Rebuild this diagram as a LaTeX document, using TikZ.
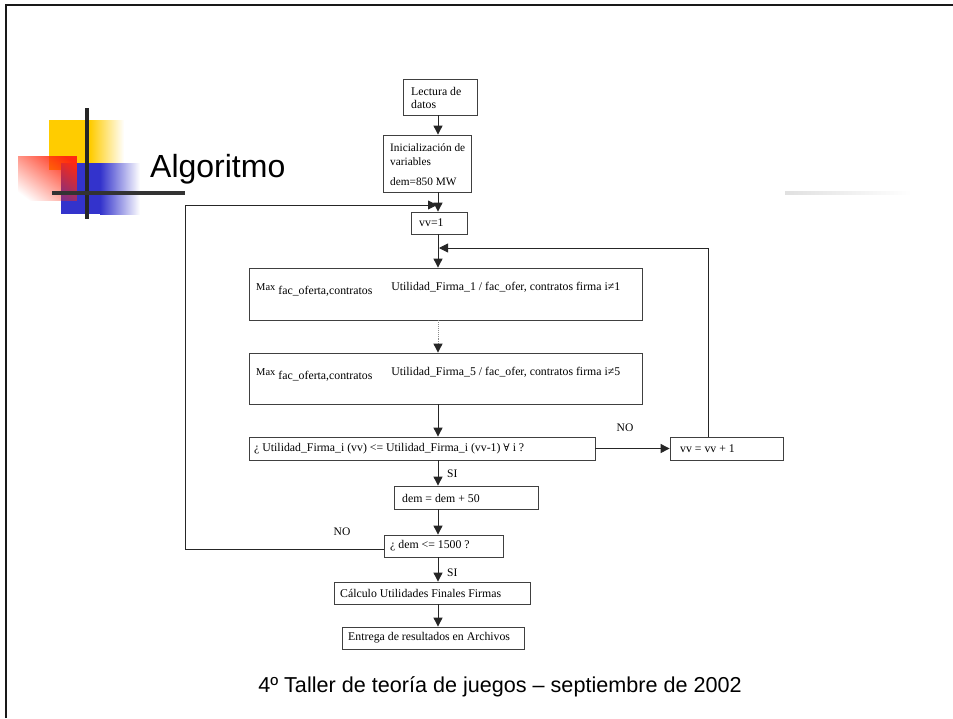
\documentclass[tikz,border=0pt]{standalone}
\usepackage{fontspec}
\setmainfont{Liberation Serif}
\newfontfamily\sansf{Liberation Sans}
\newfontfamily\dvserif{DejaVu Serif}
\usetikzlibrary{arrows.meta,fadings,shadings}
\definecolor{ylw}{HTML}{FFCC00}
\definecolor{blu}{HTML}{3333CC}
\definecolor{rd}{HTML}{FF2A10}
\begin{tikzfadingfrompicture}[name=redfade]
\shade[top color=transparent!0, bottom color=transparent!100, shading angle=-45] (0,0) rectangle (2,2);
\end{tikzfadingfrompicture}
\begin{document}
\begin{tikzpicture}[x=1pt,y=-1pt,
  box/.style={draw=black!75, line width=0.8pt, inner sep=0pt},
  txt/.style={font=\fontsize{11.8}{13.5}\selectfont, inner sep=0pt, anchor=west, align=left},
  lbl/.style={font=\fontsize{11.5}{13}\selectfont, inner sep=0pt},
  arr/.style={draw=black!85, line width=0.9pt, -{Triangle[length=9pt,width=9pt]}},
  ln/.style={draw=black!85, line width=0.9pt}]
\useasboundingbox (0,0) rectangle (953,718);
\fill[white] (0,0) rectangle (953,718);
% logo
\fill[ylw] (49,120) rectangle (90,170);
\shade[left color=ylw, right color=white] (90,120) rectangle (124,170);
\fill[blu] (61,163) rectangle (100,214);
\shade[left color=blu, right color=white] (100,163) rectangle (140,214);
\fill[rd, path fading=redfade] (18,156) rectangle (77,201);
\draw[line width=4pt, black!85] (87,108) -- (87,219);
\draw[line width=3.5pt, black!80] (52,193) -- (185,193);
\node[font=\sansf\fontsize{32}{36}\selectfont, anchor=base west, inner sep=0pt] (title) at (150,177) {Algoritmo};
\shade[left color=black!12, right color=white] (785,191.5) rectangle (912,194.5);
% frame
\draw[line width=2.6pt, black!90] (6,718) -- (6,5) -- (953,5);
% boxes
\node[box, minimum width=74pt, minimum height=36pt] (lectura) at (440,97) {};
\node[box, minimum width=88pt, minimum height=57pt] (inic) at (427,163.5) {};
\node[box, minimum width=56pt, minimum height=22pt] (vv1) at (439,223) {};
\node[box, minimum width=393pt, minimum height=52pt] (max1) at (445.5,294) {};
\node[box, minimum width=393pt, minimum height=51pt] (max2) at (445.5,378.5) {};
\node[box, minimum width=346pt, minimum height=23pt] (dec) at (422,448.5) {};
\node[box, minimum width=113pt, minimum height=23pt] (vvp) at (726.5,448.5) {};
\node[box, minimum width=144pt, minimum height=23pt] (dem) at (466,497.5) {};
\node[box, minimum width=119pt, minimum height=22pt] (dem2) at (443.5,546) {};
\node[box, minimum width=196pt, minimum height=22pt] (calc) at (432,593) {};
\node[box, minimum width=182pt, minimum height=22pt] (entrega) at (433,638) {};
% texts
\node[txt] (lectura-t) at (411,98) {Lectura de\\datos};
\node[txt, font=\fontsize{11.3}{13.5}\selectfont] (inic-t) at (390,165) {Inicialización de\\variables\\[7pt]dem=850 MW};
\node[txt] (vv1-t) at (419,223) {vv=1};
\node[txt] (max1-t) at (256,289) {{\fontsize{10.5}{12}\selectfont Max} \raisebox{-4pt}{fac\_oferta,contratos}\hspace{16pt} Utilidad\_Firma\_1 / fac\_ofer, contratos firma i≠1};
\node[txt] (max2-t) at (256,374) {{\fontsize{10.5}{12}\selectfont Max} \raisebox{-4pt}{fac\_oferta,contratos}\hspace{16pt} Utilidad\_Firma\_5 / fac\_ofer, contratos firma i≠5};
\node[txt] (dec-t) at (254,449) {¿ Utilidad\_Firma\_i (vv) <= Utilidad\_Firma\_i (vv-1) {\dvserif\fontsize{10.5}{12}\selectfont ∀} i ?};
\node[txt] (vvp-t) at (680,449) {vv = vv + 1};
\node[txt] (dem-t) at (402,498) {dem = dem + 50};
\node[txt] (dem2-t) at (390,546) {¿ dem <= 1500 ?};
\node[txt] (calc-t) at (340,593) {Cálculo Utilidades Finales Firmas};
\node[txt] (entrega-t) at (348,638) {Entrega de resultados en Archivos};
% connectors
\coordinate (ax) at (438,0);
\coordinate (j1) at (437,205);
\coordinate (j2) at (439,248);
\draw[arr] (lectura.south -| ax) -- (inic.north -| ax);
\draw[arr] (inic.south -| ax) -- (vv1.north -| ax);
\draw[arr] ([yshift=-3pt]dem2.west) -- ++(-198,0) |- (j1);
\draw[arr] (vv1.south -| ax) -- (max1.north -| ax);
\draw[arr] ([xshift=-18pt]vvp.north) |- (j2);
\draw[line width=0.9pt, draw=black!45, densely dotted, -{Triangle[length=9pt,width=9pt,color=black!85]}] (max1.south -| ax) -- (max2.north -| ax);
\draw[arr] (max2.south -| ax) -- (dec.north -| ax);
\draw[arr] (dec.east) -- (vvp.west);
\draw[arr] (dec.south -| ax) -- (dem.north -| ax);
\draw[arr] (dem.south -| ax) -- (dem2.north -| ax);
\draw[arr] (dem2.south -| ax) -- (calc.north -| ax);
\draw[arr] (calc.south -| ax) -- (entrega.north -| ax);
% labels
\node[lbl] (no1) at (625,428) {NO};
\node[lbl, anchor=west] (si1) at (447,474) {SI};
\node[lbl] (no2) at (342,532) {NO};
\node[lbl, anchor=west] (si2) at (447,573) {SI};
\node[font=\sansf\fontsize{21.6}{25}\selectfont, anchor=base, inner sep=0pt] (footer) at (500,692) {4º Taller de teoría de juegos – septiembre de 2002};
\end{tikzpicture}
\end{document}
